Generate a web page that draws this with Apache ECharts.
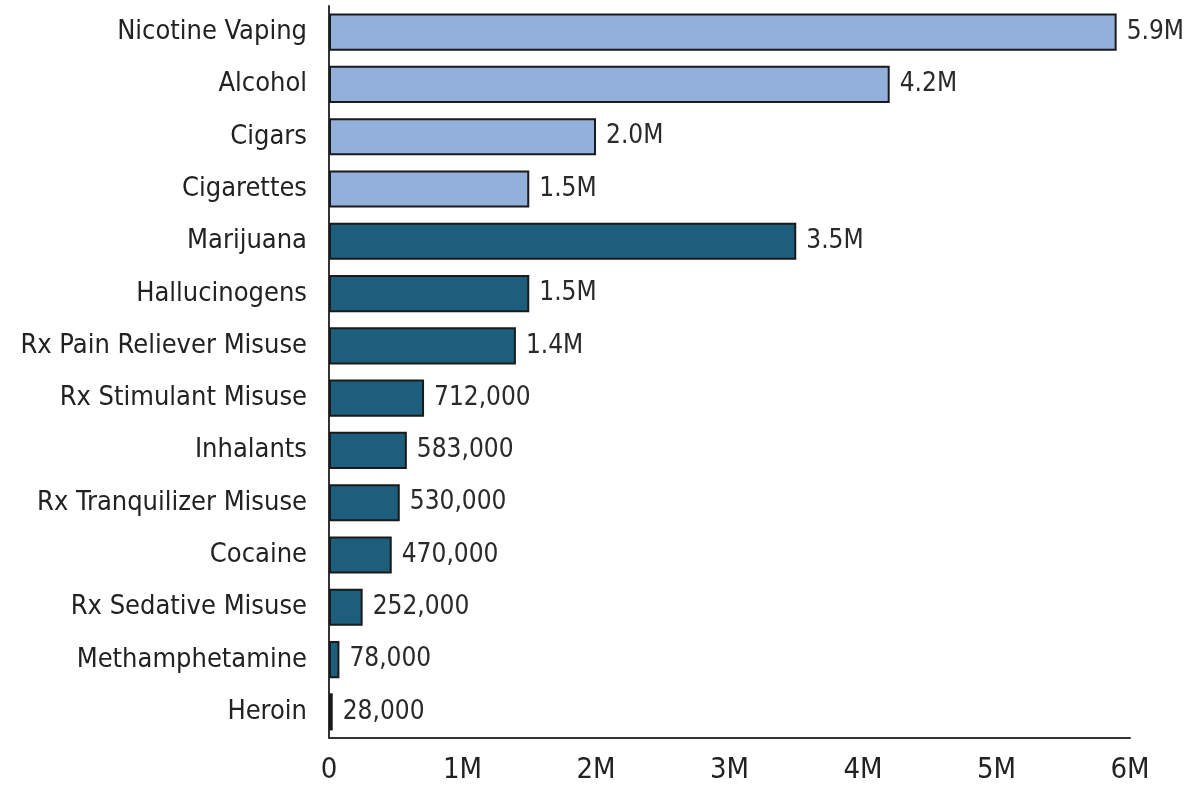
<!DOCTYPE html>
<html>
<head>
<meta charset="utf-8">
<script src="https://cdn.jsdelivr.net/npm/echarts@6/dist/echarts.min.js"></script>
<style>
  html, body { margin: 0; padding: 0; background: #ffffff; }
  #chart { width: 1196px; height: 787px; }
</style>
</head>
<body>
<div id="chart"></div>
<script>
// Substances, top to bottom
const categories = [
  'Nicotine Vaping', 'Alcohol', 'Cigars', 'Cigarettes', 'Marijuana',
  'Hallucinogens', 'Rx Pain Reliever Misuse', 'Rx Stimulant Misuse',
  'Inhalants', 'Rx Tranquilizer Misuse', 'Cocaine', 'Rx Sedative Misuse',
  'Methamphetamine', 'Heroin'
];
// Number of people
const values = [
  5900000, 4200000, 2000000, 1500000, 3500000,
  1500000, 1400000, 712000,
  583000, 530000, 470000, 252000,
  78000, 28000
];
// Group of each substance: tobacco/alcohol vs. other drugs
const groups = [
  'legal', 'legal', 'legal', 'legal', 'drug',
  'drug', 'drug', 'drug',
  'drug', 'drug', 'drug', 'drug',
  'drug', 'drug'
];
const xTicks = [0, 1000000, 2000000, 3000000, 4000000, 5000000, 6000000];

const groupColor = { legal: '#93afdb', drug: '#1c5e7c' };
const FONT = '"DejaVu Sans Condensed", "Liberation Sans Narrow", Arial, sans-serif';

function valueLabel(v) {
  if (v >= 1000000) return (v / 1000000).toFixed(1) + 'M';
  return v.toLocaleString('en-US');
}
function tickLabel(v) {
  return v === 0 ? '0' : (v / 1000000) + 'M';
}

const chart = echarts.init(document.getElementById('chart'), null, { renderer: 'canvas' });

chart.setOption({
  backgroundColor: '#ffffff',
  animation: false,
  grid: { left: 329, right: 66, top: 6, bottom: 49, containLabel: false },
  xAxis: {
    type: 'value',
    min: xTicks[0],
    max: xTicks[xTicks.length - 1],
    interval: 1000000,
    axisLine: { show: true, lineStyle: { color: '#333333', width: 2 } },
    axisTick: { show: false },
    splitLine: { show: false },
    axisLabel: {
      formatter: tickLabel,
      color: '#222222',
      fontFamily: FONT,
      fontSize: 29,
      margin: 18
    }
  },
  yAxis: {
    type: 'category',
    data: categories,
    inverse: true,
    axisLine: { show: true, onZero: false, lineStyle: { color: '#333333', width: 2 } },
    axisTick: { show: false },
    axisLabel: {
      color: '#222222',
      fontFamily: FONT,
      fontSize: 27,
      margin: 22
    }
  },
  series: [{
    type: 'bar',
    data: values.map((v, i) => ({
      value: v,
      itemStyle: { color: groupColor[groups[i]] }
    })),
    barCategoryGap: '29%',
    itemStyle: { borderColor: '#1a1a1a', borderWidth: 2 },
    label: {
      show: true,
      position: 'right',
      distance: 10,
      formatter: p => valueLabel(p.value),
      color: '#2a2a2a',
      fontFamily: FONT,
      fontSize: 26
    }
  }]
});
</script>
</body>
</html>
